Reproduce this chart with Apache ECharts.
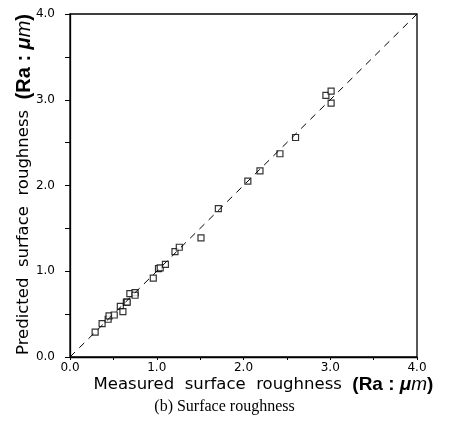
<!DOCTYPE html>
<html><head><meta charset="utf-8">
<script src="https://cdn.jsdelivr.net/npm/echarts@6/dist/echarts.min.js"></script>
<style>html,body{margin:0;padding:0;background:#fff}#c{width:449px;height:431px}</style>
</head><body><div id="c"></div>
<script>
const measured  = [0.29,0.37,0.44,0.45,0.51,0.58,0.61,0.65,0.66,0.69,0.75,0.75,0.96,1.02,1.04,1.10,1.21,1.26,1.51,1.71,2.05,2.19,2.42,2.60,2.95,3.01,3.01];
const predicted = [0.29,0.39,0.44,0.48,0.49,0.59,0.53,0.64,0.64,0.74,0.75,0.72,0.92,1.03,1.04,1.08,1.23,1.28,1.39,1.73,2.05,2.17,2.37,2.56,3.05,3.10,2.96];
const refLine = [[0,0],[4,4]];
const tickLabels = ['0.0','1.0','2.0','3.0','4.0'];

const chart = echarts.init(document.getElementById('c'));
const font = 'DejaVu Sans';
const mkRich = s => ({
  b: {fontFamily: 'Liberation Sans', fontWeight: 'bold', fontSize: s, color: '#000'},
  m: {fontFamily: 'Liberation Sans', fontWeight: 'bold', fontStyle: 'italic', fontSize: s, color: '#000'},
  i: {fontFamily: 'Liberation Sans', fontStyle: 'italic', fontSize: s, color: '#000'}
});
const axisCommon = {
  min: 0, max: 4, interval: 0.5,
  axisLine: {show: true, onZero: false, lineStyle: {color: '#000', width: 1.3}},
  splitLine: {show: false},
};
const lbl = v => (Math.abs(v - Math.round(v)) < 1e-6 ? tickLabels[Math.round(v)] : '');
chart.setOption({
  animation: false,
  title: {text: '(b) Surface roughness', left: 'center', top: 394,
    textStyle: {fontFamily: 'Liberation Serif', fontWeight: 'normal', fontSize: 16, color: '#000'}},
  grid: {left: 70, right: 32, top: 14, bottom: 74, show: true, borderColor: '#000', borderWidth: 1.3,
    outerBoundsMode: 'none', containLabel: false},
  xAxis: Object.assign({}, axisCommon, {
    type: 'value',
    axisTick: {show: true, inside: false, length: 3, lineStyle: {color: '#000'}},
    axisLabel: {formatter: lbl, color: '#000', fontFamily: font, fontSize: 12, margin: 5, showMinLabel: true, showMaxLabel: true},
    name: 'Measured  surface  roughness  {b|(Ra : }{m|μ}{i|m}{b|)}',
    nameLocation: 'middle', nameGap: 18, nameMoveOverlap: false,
    nameTextStyle: {color: '#000', fontFamily: font, fontSize: 16.5, padding: [0,0,0,40], rich: mkRich(19)}
  }),
  yAxis: Object.assign({}, axisCommon, {
    type: 'value',
    axisTick: {show: true, inside: false, length: 5, lineStyle: {color: '#000'}},
    axisLabel: {formatter: lbl, color: '#000', fontFamily: font, fontSize: 12, margin: 15, showMinLabel: true, showMaxLabel: true},
    name: 'Predicted  surface  roughness  {b|(Ra : }{m|μ}{i|m}{b|)}',
    nameLocation: 'middle', nameGap: 36, nameMoveOverlap: false,
    nameTextStyle: {color: '#000', fontFamily: font, fontSize: 16.5, padding: [0,0,0,2], rich: mkRich(20)}
  }),
  series: [
    {type: 'line', data: refLine, symbol: 'none', silent: true,
     lineStyle: {color: '#000', width: 1, type: [7, 6]}},
    {type: 'scatter', data: measured.map((m, i) => [m, predicted[i]]),
     symbol: 'rect', symbolSize: 6,
     itemStyle: {color: '#fff', borderColor: '#000', borderWidth: 1.2}}
  ]
});
</script></body></html>
